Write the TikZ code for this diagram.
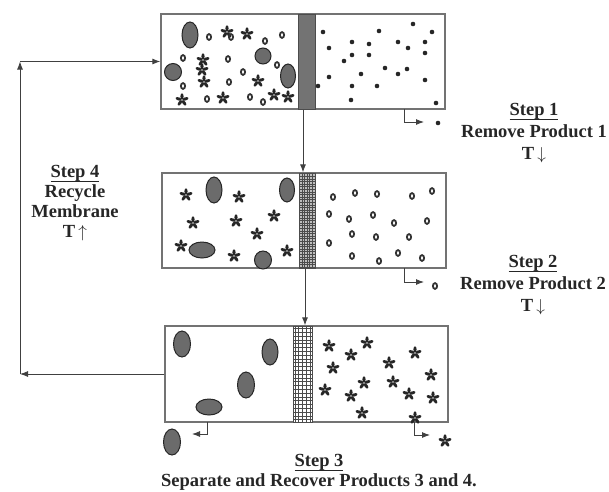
\documentclass[tikz,border=0pt]{standalone}
\usepackage{fontspec}
\setmainfont{Liberation Serif}
\usetikzlibrary{arrows.meta,calc}
\newcommand\myul[1]{\setbox0\hbox{#1}\rlap{\rule[-4.4pt]{\wd0}{0.9pt}}\box0}
\begin{document}
\begin{tikzpicture}[x=1pt,y=-1pt,
  boxst/.style={draw=black!55,line width=1.3pt,rectangle,inner sep=0pt},
  arr/.style={draw=black!75,line width=0.9pt,-{Latex[length=8pt,width=6pt]}},
  lbl/.style={font=\bfseries\fontsize{18.5}{22}\selectfont,align=center,text=black!85,inner sep=0pt},
  blob/.style={fill=black!58,draw=black!85,line width=1pt},
  dotst/.style={fill=black!85},
  ost/.style={draw=black!80,line width=1.8pt},
  astx/.pic={\foreach \ang in {0,72,...,288}{\fill[black!85,rotate=\ang] (0,-3.6) ellipse [x radius=1.6, y radius=3.1];}}
]
\useasboundingbox (0,0) rectangle (609,491);

% boxes
\node[boxst,minimum width=284pt,minimum height=95pt] (box1) at (303,61.5) {};
\node[boxst,minimum width=284pt,minimum height=95pt] (box2) at (304,220.5) {};
\node[boxst,minimum width=283pt,minimum height=96pt] (box3) at (306.5,374) {};

% membranes
\node[rectangle,inner sep=0pt,minimum width=17pt,minimum height=95pt,fill=black!55,draw=black!70,line width=0.8pt] (mem1) at (306.5,61.5) {};
\node[rectangle,inner sep=0pt,minimum width=16pt,minimum height=95pt,fill=black!25,draw=black!70,line width=0.8pt,
  path picture={\draw[black!70,line width=0.45pt,step=2.6pt] (path picture bounding box.south west) grid (path picture bounding box.north east);}] (mem2) at (307,220.5) {};
\node[rectangle,inner sep=0pt,minimum width=19pt,minimum height=96pt,fill=white,draw=black!70,line width=0.8pt,
  path picture={\draw[black!70,line width=0.5pt,step=3.8pt] (path picture bounding box.south west) grid (path picture bounding box.north east);}] (mem3) at (302.5,374) {};

% box 1 contents
\foreach \x/\y/\rx/\ry in {190/35/8/13, 263/56/8/8, 173/72/8.5/8.5, 288/76/7.5/12}
  \draw[blob] (\x,\y) ellipse [x radius=\rx, y radius=\ry];
\foreach \x/\y in {227/32,247/34,203/60,202/70,204/82,258/81,182/100,223/98,274/95,288/97}
  \pic at (\x,\y) {astx};
\foreach \x/\y in {209/37,231/37,265/41,282/35,183/58,228/59,277/65,243/72,229/82,183/86,207/99,250/97,263/102}
  \draw[ost] (\x,\y) ellipse [x radius=2.1, y radius=2.9];
\foreach \x/\y in {323/32,379/31,413/24,432/32,329/48,352/42,369/44,398/42,425/42,352/55,369/55,408/48,425/53,344/61,385/68,407/69,398/74,361/74,329/77,425/80,318/86,352/86,377/86,351/100,436/103}
  \fill[dotst] (\x,\y) circle [radius=2.3];

% box 2 contents
\foreach \x/\y/\rx/\ry in {214/190/8/13, 287/190/7.5/12, 202/250/13/8, 263/260/8.5/9}
  \draw[blob] (\x,\y) ellipse [x radius=\rx, y radius=\ry];
\foreach \x/\y in {186/195,239/197,193/223,236/221,274/216,257/234,181/246,234/256,287/251}
  \pic at (\x,\y) {astx};
\foreach \x/\y in {333/197,355/193,377/194,412/196,432/191,329/214,349/219,373/215,394/223,427/221,352/234,376/237,409/237,329/243,352/256,379/261,398/253,422/258}
  \draw[ost] (\x,\y) ellipse [x radius=2.1, y radius=2.9];

% box 3 contents
\foreach \x/\y/\rx/\ry in {182/344/8.5/13, 270/352/8/13, 246/385/8.5/13, 209/407/13/8}
  \draw[blob] (\x,\y) ellipse [x radius=\rx, y radius=\ry];
\foreach \x/\y in {329/346,367/343,351/355,415/353,333/368,389/363,431/375,393/382,364/383,325/390,351/396,409/394,433/398,362/413,415/418}
  \pic at (\x,\y) {astx};

% process arrows
\draw[arr] (box1.south) -- (box1.south |- box2.north);
\draw[arr] ([xshift=1pt]box2.south) -- ([xshift=1pt]box2.south |- box3.north);

% recycle loop
\coordinate (lb) at (20,374);
\coordinate (lt) at (20,61.5);
\draw[arr] (box3.west) -- (lb);
\draw[arr] (lb) -- (lt);
\draw[arr] (lt) -- (box1.west);

% outlets
\coordinate (o1) at (424,122);
\coordinate (o2) at (424,282);
\coordinate (o3) at (192,434);
\coordinate (o4) at (430,435);
\draw[arr] (404,109) |- (o1);
\draw[arr] (404,268) |- (o2);
\draw[arr] (207,422) |- (o3);
\draw[arr] (414,422) |- (o4);
\fill[dotst] (438,123) circle [radius=2.3];
\draw[ost] (435,286) ellipse [x radius=2.1, y radius=2.9];
\draw[blob] (172,442) ellipse [x radius=8.5, y radius=13];
\pic at (445,441) {astx};

% labels
\node[lbl] (step1) at (534,133) {\myul{Step 1}\\Remove Product 1\\T\,$\downarrow$};
\node[lbl] (step2) at (533,285) {\myul{Step 2}\\Remove Product 2\\T\,$\downarrow$};
\node[lbl,font=\bfseries\fontsize{18.5}{20}\selectfont] (step4) at (75,203) {\myul{Step 4}\\Recycle\\Membrane\\T\,$\uparrow$};
\node[lbl,font=\bfseries\fontsize{18.5}{20}\selectfont] (step3) at (319,472) {\myul{Step 3}\\Separate and Recover Products 3 and 4.};
\end{tikzpicture}
\end{document}
